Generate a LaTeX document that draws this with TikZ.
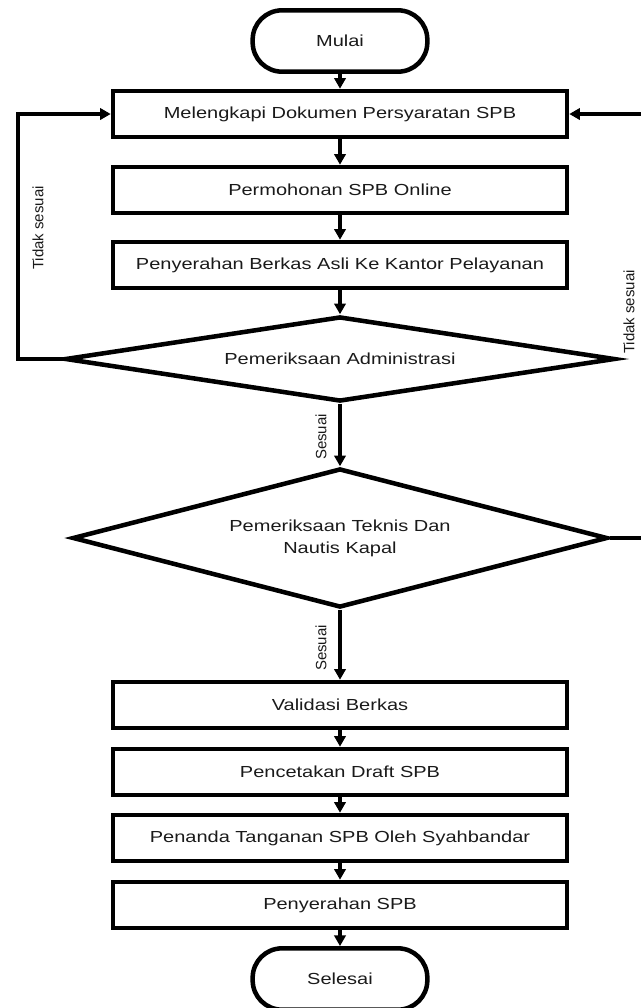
\documentclass[tikz,border=0pt]{standalone}
\usepackage{fontspec}
\setmainfont{Liberation Sans}[FakeStretch=1.25]
\newfontfamily\lblfont{Liberation Sans}
\usepackage{tikz}
\usetikzlibrary{arrows.meta,shapes.geometric}
\definecolor{linec}{HTML}{000000}
\definecolor{txtc}{HTML}{1A1A1A}
\tikzset{
  ar/.style={-{Triangle[length=8pt,width=8.5pt]},line width=3.4pt,linec},
  box/.style={draw=linec,line width=3.4pt,rectangle,minimum width=340.5pt,minimum height=34.5pt,align=center,inner sep=2pt,font=\fontsize{12}{16.5}\selectfont,text=txtc},
  term/.style={box,rounded corners=22pt,minimum width=131pt,minimum height=46pt},
  dec/.style={box,diamond,inner sep=0pt},
  lbl/.style={font=\lblfont\fontsize{11.25}{13.5}\selectfont,text=txtc,rotate=90,inner sep=0pt}
}
\begin{document}
\begin{tikzpicture}[x=0.75pt,y=-0.75pt]
\useasboundingbox (0,0) rectangle (641,1008);
\node[term] (mul) at (340,41) {Mulai};
\node[box] (b1) at (340,114) {Melengkapi Dokumen Persyaratan SPB};
\node[box] (b2) at (340,190) {Permohonan SPB Online};
\node[box] (b3) at (340,265) {Penyerahan Berkas Asli Ke Kantor Pelayanan};
\node[dec,aspect=6.5,minimum width=412.5pt,minimum height=63.75pt] (d1) at (340,359) {Pemeriksaan Administrasi};
\node[dec,aspect=3.85,minimum width=401.25pt,minimum height=104.25pt] (d2) at (340,538) {Pemeriksaan Teknis Dan\\Nautis Kapal};
\node[box] (b4) at (340,705) {Validasi Berkas};
\node[box] (b5) at (340,772) {Pencetakan Draft SPB};
\node[box] (b6) at (340,838) {Penanda Tanganan SPB Oleh Syahbandar};
\node[box] (b7) at (340,905) {Penyerahan SPB};
\node[term] (sel) at (340,979) {Selesai};
\foreach \a/\b in {mul/b1,b1/b2,b2/b3,b3/d1,d1/d2,d2/b4,b4/b5,b5/b6,b6/b7,b7/sel}{\draw[ar] (\a) -- (\b);}
\coordinate (lc) at (18,359);
\coordinate (rc) at (645,538);
\draw[ar] (d1.west) -- (lc) |- (b1.west);
\draw[ar] (d2.east) -- (rc) |- (b1.east);
\node[lbl] (ts1) at (38,228) {Tidak sesuai};
\node[lbl] (ts2) at (629,312) {Tidak sesuai};
\node[lbl] (s1) at (321,437) {Sesuai};
\node[lbl] (s2) at (321,648) {Sesuai};
\end{tikzpicture}
\end{document}
